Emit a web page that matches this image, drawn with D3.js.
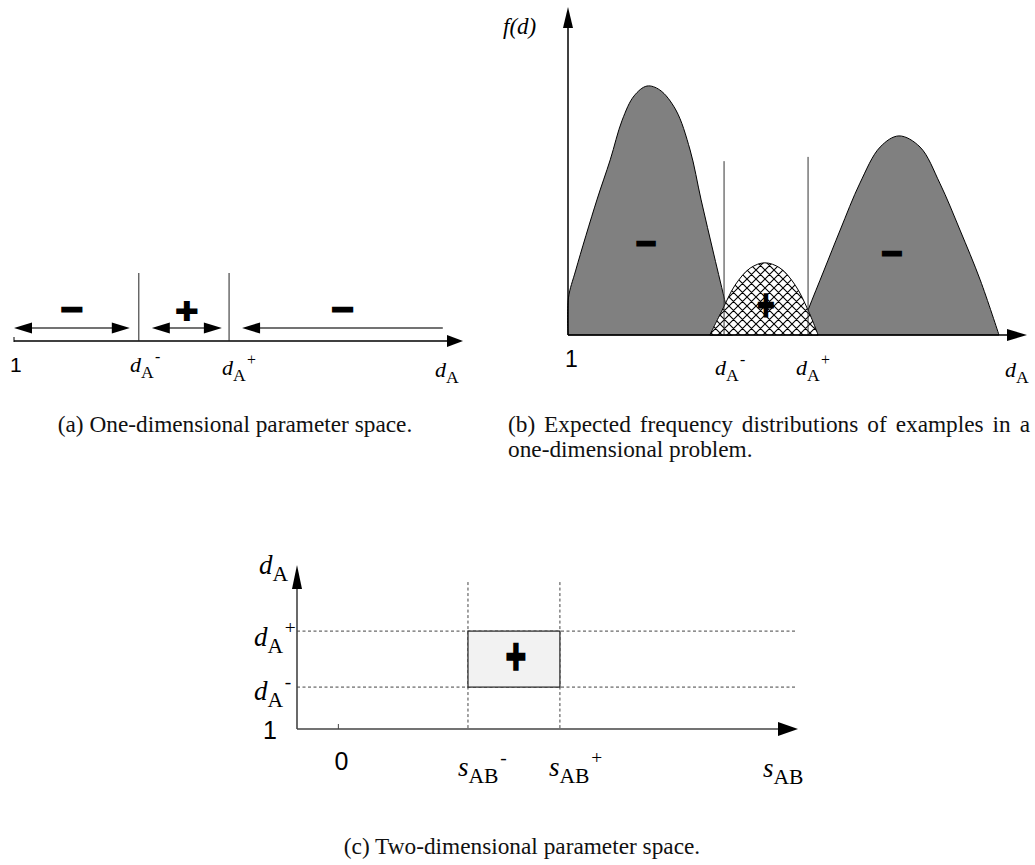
<!DOCTYPE html>
<html><head><meta charset="utf-8">
<script src="https://cdn.jsdelivr.net/npm/d3@7"></script>
<style>body{margin:0;background:#fff}</style>
</head><body>
<svg id="fig" width="1035" height="865"></svg>
<script>
// ================= DATA =================
// (a) one-dimensional parameter space (d_A axis, arbitrary units, origin "1" at 0)
const aThresholds = [27.8, 47.9];                 // d_A^- , d_A^+
const aRegionSigns = ["−", "+", "−"];
const aRegionFrom  = [0, 30.7, 50.8];
const aRegionTo    = [25.8, 46.3, 95.5];
const aRegionHeads = ["both", "both", "start"];

// (b) expected frequency distributions  [d, f(d)]
const bNegLeft  = [[0,0],[0.1,11.3],[1.7,19.8],[6.3,41.2],[9.2,53.4],[11.8,65.5],[14.4,72.9],[17.2,75.9],
                   [20.0,74.7],[23.5,68.6],[26.6,56.4],[29.0,41.2],[31.8,24.4],[34.4,9.1],[35.9,0]];
const bPositive = [[30.9,0],[33.6,7.6],[36.4,15.2],[39.7,20.4],[42.9,22.0],[46.2,20.4],[49.5,15.2],[52.3,7.6],[54.5,0]];
const bNegRight = [[50.3,0],[52.3,7.6],[55.8,19.8],[59.3,32.0],[63.6,46.3],[68.0,57.3],[72.1,60.7],
                   [76.7,57.3],[81.0,46.3],[85.4,32.0],[89.8,16.8],[93.9,0]];
const bThresholds = [34.0, 52.3];
const bThresholdTops = [53.0, 54.3];

// (c) two-dimensional parameter space
const cSThresholds = [28.2, 48.2];   // s_AB^- , s_AB^+
const cDThresholds = [26.3, 60.1];   // d_A^- , d_A^+
const cSTicks = [0];

const captionA  = "(a) One-dimensional parameter space.";
const captionB1 = "(b) Expected frequency distributions of examples in a";
const captionB2 = "one-dimensional problem.";
const captionC  = "(c) Two-dimensional parameter space.";

// ================= DRAW =================
const svg = d3.select("#fig");
const SERIF = "'Liberation Serif', 'Times New Roman', serif";
const SANS = "'Liberation Sans', Arial, sans-serif";

function head(g, tipX, tipY, dir, len, half, fill) {
  let p;
  if (dir === "right") p = [[tipX,tipY],[tipX-len,tipY-half],[tipX-len,tipY+half]];
  else if (dir === "left") p = [[tipX,tipY],[tipX+len,tipY-half],[tipX+len,tipY+half]];
  else p = [[tipX,tipY],[tipX-half,tipY+len],[tipX+half,tipY+len]];
  g.append("path").attr("d", d3.line()(p) + "Z").attr("fill", fill || "#000").attr("stroke","none");
}
function sym(g, x, y, base, sub, sup, size) {
  const t = g.append("text").attr("x", x).attr("y", y)
    .style("font-family", SERIF).attr("font-size", size).attr("fill", "#000");
  t.append("tspan").attr("font-style", "italic").text(base);
  t.append("tspan").attr("font-size", size * 0.8).attr("dy", size * 0.27).text(sub);
  if (sup) t.append("tspan").attr("font-size", size * 0.72).attr("dy", -size * 0.72).attr("dx", size * 0.06).text(sup);
  return t;
}
function sign(g, x, y, ch, size, sx, sy) {
  g.append("text").attr("transform", `translate(${x},${y}) scale(${sx||1},${sy||1})`)
    .attr("y", size * 0.3).attr("text-anchor", "middle")
    .style("font-family", "'DejaVu Sans', sans-serif").attr("font-weight", "bold")
    .attr("font-size", size).attr("fill", "#000").attr("stroke", "#000").attr("stroke-width", 2.4)
    .text(ch);
}
function num(g, x, y, txt, size, anchor) {
  g.append("text").attr("x", x).attr("y", y).attr("text-anchor", anchor || "start")
    .style("font-family", SANS).attr("font-size", size).attr("fill", "#000").text(txt);
}

// ---------- (a) ----------
{
  const g = svg.append("g");
  const x = d3.scaleLinear().domain([0, 100]).range([14, 463]);
  const axisY = 341, arrY = 328, lineTop = 273;
  g.append("line").attr("x1", x(0)).attr("x2", x(100) - 10).attr("y1", axisY).attr("y2", axisY)
    .attr("stroke", "#000").attr("stroke-width", 1.4);
  g.append("line").attr("x1", x(0)).attr("x2", x(0)).attr("y1", axisY - 4).attr("y2", axisY + 1).attr("stroke", "#000");
  head(g, x(100), axisY, "right", 16, 6);
  aThresholds.forEach(t => g.append("line").attr("x1", x(t)).attr("x2", x(t))
    .attr("y1", lineTop).attr("y2", axisY).attr("stroke", "#222").attr("stroke-width", 1));
  aRegionSigns.forEach((s, i) => {
    const x0 = x(aRegionFrom[i]), x1 = x(aRegionTo[i]);
    g.append("line").attr("x1", x0 + 8).attr("x2", aRegionHeads[i] === "both" ? x1 - 8 : x1)
      .attr("y1", arrY).attr("y2", arrY).attr("stroke", "#444").attr("stroke-width", 1.3);
    head(g, x0, arrY, "left", 18, 5.5);
    if (aRegionHeads[i] === "both") head(g, x1, arrY, "right", 18, 5.5);
    sign(g, (x0 + x1) / 2, s === "+" ? 312 : 310, s, 30, 1, s === "+" ? 0.92 : 1);
  });
  num(g, 10, 372, "1", 21);
  sym(g, 130, 372, "d", "A", "-", 22);
  sym(g, 222, 375, "d", "A", "+", 22);
  sym(g, 435, 377, "d", "A", null, 22);
}

// ---------- (b) ----------
{
  const g = svg.append("g");
  const x = d3.scaleLinear().domain([0, 100]).range([568, 1027]);
  const y = d3.scaleLinear().domain([0, 100]).range([335, 7]);
  const defs = svg.append("defs");
  const P = 9;
  const pat = defs.append("pattern").attr("id", "xhatch").attr("patternUnits", "userSpaceOnUse")
    .attr("width", P).attr("height", P);
  pat.append("rect").attr("width", P).attr("height", P).attr("fill", "#fff");
  pat.append("path").attr("d", `M0,0 L${P},${P} M${P},0 L0,${P} M-1,${P-1} L1,${P+1} M${P-1},-1 L${P+1},1`)
    .attr("stroke", "#000").attr("stroke-width", 1.1);

  const line = d3.line().x(d => x(d[0])).y(d => y(d[1])).curve(d3.curveCatmullRom.alpha(0.5));
  g.append("path").attr("d", line(bNegLeft) + "Z").attr("fill", "#808080").attr("stroke", "#000").attr("stroke-width", 1);
  g.append("path").attr("d", line(bNegRight) + "Z").attr("fill", "#808080").attr("stroke", "#000").attr("stroke-width", 1);
  g.append("path").attr("d", line(bPositive) + "Z").attr("fill", "url(#xhatch)").attr("stroke", "#000").attr("stroke-width", 1);

  bThresholds.forEach((t, i) => g.append("line").attr("x1", x(t)).attr("x2", x(t))
    .attr("y1", y(bThresholdTops[i])).attr("y2", y(0)).attr("stroke", "#333").attr("stroke-width", 1));

  g.append("line").attr("x1", x(0)).attr("x2", x(0)).attr("y1", y(0)).attr("y2", y(100) + 15)
    .attr("stroke", "#000").attr("stroke-width", 1.5);
  head(g, x(0), y(100), "up", 21, 5);
  g.append("line").attr("x1", x(0)).attr("x2", x(100) - 12).attr("y1", y(0)).attr("y2", y(0))
    .attr("stroke", "#000").attr("stroke-width", 1.6);
  head(g, x(100), y(0), "right", 20, 6);

  const peak = arr => arr.reduce((a, b) => b[1] > a[1] ? b : a);
  const pl = peak(bNegLeft), pr = peak(bNegRight), pp = peak(bPositive);
  sign(g, x(pl[0]) - 1, y(pl[1] * 0.365), "−", 30, 0.92, 1);
  sign(g, x(pr[0]) - 7, y(pr[1] * 0.407), "−", 30, 0.95, 1);
  sign(g, x(pp[0]) + 1, y(pp[1] * 0.4), "+", 28, 0.8, 1.2);

  g.append("text").attr("x", 503).attr("y", 34).style("font-family", SERIF).attr("font-size", 23)
    .attr("font-style", "italic").text("f(d)");
  num(g, 565, 367, "1", 23);
  sym(g, 715, 375, "d", "A", "-", 22);
  sym(g, 796, 375, "d", "A", "+", 22);
  sym(g, 1005, 377, "d", "A", null, 22);
}

// ---------- (c) ----------
{
  const g = svg.append("g");
  const x = d3.scaleLinear().domain([-9, 100]).range([297, 798]);
  const y = d3.scaleLinear().domain([1, 100]).range([729, 565]);
  const vTop = 89.7, hEnd = 99.4;
  cDThresholds.forEach(t => g.append("line").attr("x1", x(-9)).attr("x2", x(hEnd)).attr("y1", y(t)).attr("y2", y(t))
    .attr("stroke", "#444").attr("stroke-width", 1).attr("stroke-dasharray", "3,2.5"));
  cSThresholds.forEach(t => g.append("line").attr("x1", x(t)).attr("x2", x(t)).attr("y1", y(vTop)).attr("y2", y(1))
    .attr("stroke", "#444").attr("stroke-width", 1).attr("stroke-dasharray", "3,2.5"));
  g.append("rect").attr("x", x(cSThresholds[0])).attr("y", y(cDThresholds[1]))
    .attr("width", x(cSThresholds[1]) - x(cSThresholds[0])).attr("height", y(cDThresholds[0]) - y(cDThresholds[1]))
    .attr("fill", "#f2f2f2").attr("stroke", "#222").attr("stroke-width", 1.2);
  sign(g, (x(cSThresholds[0]) + x(cSThresholds[1])) / 2 + 2, (y(cDThresholds[0]) + y(cDThresholds[1])) / 2 - 2,
       "+", 28, 0.95, 1.4);
  g.append("line").attr("x1", x(-9)).attr("x2", x(100) - 14).attr("y1", y(1)).attr("y2", y(1))
    .attr("stroke", "#444").attr("stroke-width", 1.6);
  head(g, x(100), y(1), "right", 20, 7);
  g.append("line").attr("x1", x(-9)).attr("x2", x(-9)).attr("y1", y(1)).attr("y2", y(100) + 15)
    .attr("stroke", "#444").attr("stroke-width", 1.6);
  head(g, x(-9), y(100), "up", 24, 5);
  cSTicks.forEach(t => {
    g.append("line").attr("x1", x(t)).attr("x2", x(t)).attr("y1", y(1) - 5).attr("y2", y(1)).attr("stroke", "#444");
    num(g, x(t) + 3, 770, String(t), 25, "middle");
  });
  num(g, 263, 739, "1", 25);
  sym(g, 259, 574, "d", "A", null, 27);
  sym(g, 254, 646, "d", "A", "+", 27);
  sym(g, 254, 700, "d", "A", "-", 27);
  sym(g, 458, 776, "s", "AB", "-", 27);
  sym(g, 549, 776, "s", "AB", "+", 27);
  sym(g, 763, 777, "s", "AB", null, 27);
}

// ---------- captions ----------
function caption(x, y, txt, size, anchor) {
  return svg.append("text").attr("x", x).attr("y", y).attr("text-anchor", anchor || "start")
    .style("font-family", SERIF).attr("font-size", size).attr("fill", "#111").text(txt);
}
caption(235, 432, captionA, 23.3, "middle");
const b1 = caption(508, 432, captionB1, 23.3);
const w1 = b1.node().getComputedTextLength();
b1.attr("word-spacing", Math.max(0, (522 - w1) / 7));
caption(508, 457, captionB2, 23.3);
caption(522, 854, captionC, 23.3, "middle");
</script>
</body></html>
